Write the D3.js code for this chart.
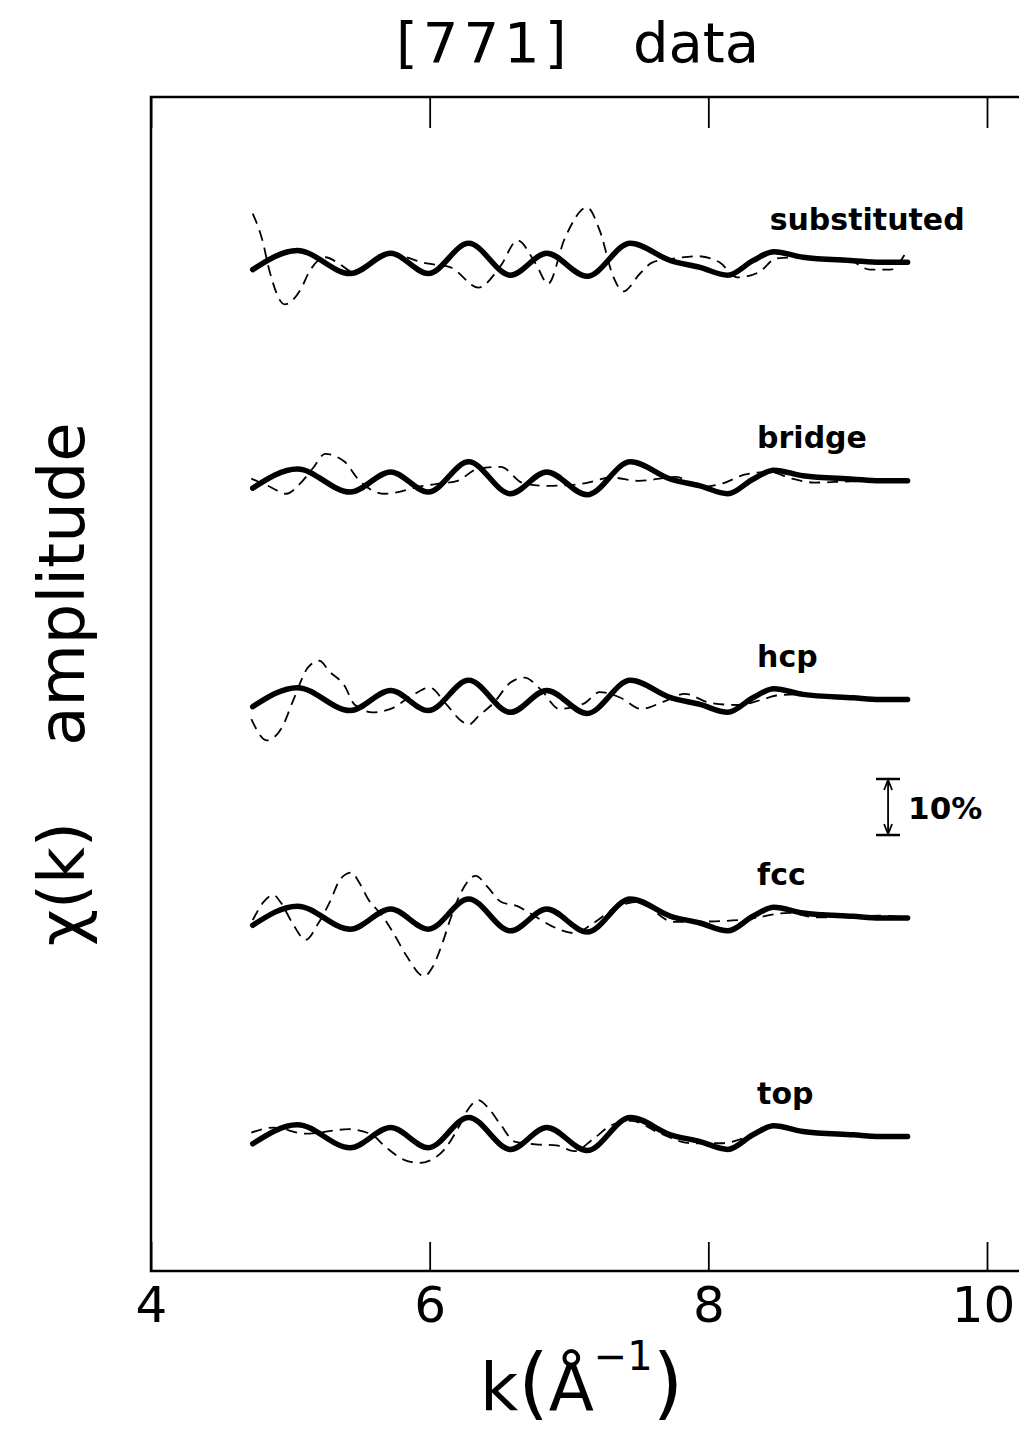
<html>
<head>
<title>[771] data</title>
<script src="https://d3js.org/d3.v7.min.js"></script>
<style>
  body { margin: 0; background: #fff; }
  svg { display: block; }
  .thin { font-family: "DejaVu Sans", sans-serif; fill: #000; }
  .bold { font-family: "DejaVu Sans", sans-serif; font-weight: bold; fill: #000; }
</style>
</head>
<body>
<div id="chart"></div>
<script>
// ---- data (k in 1/A, chi in %) ----
var panelNames = ["substituted", "bridge", "hcp", "fcc", "top"];
var panelOffsets = [156, 117, 78, 39, 0];

// measured chi(k), same in every panel (thick line)
var kData   = [4.73, 5.05, 5.43, 5.72, 5.99, 6.28, 6.58, 6.84, 7.13, 7.44, 7.73, 7.94, 8.14, 8.32, 8.47, 8.68, 9.04, 9.23, 9.43];
var chiData = [-1.1, 2.3, -1.8, 1.8, -1.8, 3.6, -2.1, 1.8, -2.3, 3.6, 0.5, -0.7, -2.1, 0.5, 2.1, 1.1, 0.5, 0.2, 0.2];

// calculated chi(k) for each site (dashed)
var kSub   = [4.73, 4.80, 4.85, 4.96, 5.07, 5.14, 5.25, 5.36, 5.44, 5.72, 5.98, 6.15, 6.35, 6.51, 6.63, 6.76, 6.85, 6.97, 7.13, 7.22, 7.32, 7.39, 7.51, 7.60, 7.76, 7.92, 8.08, 8.21, 8.36, 8.49, 8.66, 8.82, 8.98, 9.16, 9.31, 9.41];
var chiSub = [8.9, 4.1, -1.3, -7.3, -4.8, -1.3, 1.1, -0.2, -1.4, 1.6, 0, -0.7, -4.3, -0.4, 4.1, 0, -3.6, 4.5, 10.0, 5.9, -2.5, -5.0, -1.8, 0.2, 0.9, 1.3, 0.2, -2.5, -1.6, 0.9, 1.1, 0.9, 0.9, -1.1, -1.1, 1.6];

var kBridge   = [4.72, 4.85, 4.97, 5.07, 5.16, 5.25, 5.39, 5.49, 5.68, 5.79, 5.93, 6.10, 6.20, 6.35, 6.51, 6.67, 6.83, 6.98, 7.12, 7.30, 7.50, 7.77, 7.94, 8.11, 8.26, 8.44, 8.60, 8.76, 9.02, 9.43];
var chiBridge = [0.6, -0.8, -2.1, -0.3, 2.4, 5.0, 3.6, 0.4, -2.1, -1.7, -0.8, -0.2, 0.2, 2.4, 2.7, -0.2, -0.7, -0.6, -0.2, 0.8, 0.2, 0.9, -0.9, -0.2, 1.3, 1.8, 0.6, -0.1, 0.1, 0.2];

var kHcp   = [4.72, 4.83, 4.94, 5.02, 5.13, 5.21, 5.28, 5.39, 5.46, 5.59, 5.72, 5.88, 6.00, 6.12, 6.23, 6.28, 6.35, 6.46, 6.58, 6.68, 6.80, 6.93, 7.11, 7.22, 7.37, 7.52, 7.68, 7.83, 8.01, 8.21, 8.39, 8.49, 8.68, 9.04, 9.43];
var chiHcp = [-3.3, -7.1, -4.8, 0, 6.0, 7.1, 5.2, 2.6, -0.7, -2.1, -1.5, 1.0, 2.3, -0.7, -3.7, -4.3, -2.8, -0.4, 3.2, 4.1, 1.9, -1.5, -0.5, 1.5, 0.5, -1.5, -0.2, 1.2, -0.4, -0.8, 0.2, 0.9, 1.1, 0.5, 0.2];

var kFcc   = [4.73, 4.81, 4.88, 4.93, 5.01, 5.11, 5.20, 5.29, 5.36, 5.44, 5.49, 5.56, 5.66, 5.74, 5.83, 5.96, 6.02, 6.09, 6.15, 6.23, 6.33, 6.42, 6.51, 6.63, 6.73, 6.88, 7.04, 7.17, 7.32, 7.49, 7.75, 8.05, 8.26, 8.58, 8.77, 9.05, 9.23, 9.40];
var chiFcc = [-0.2, 3.1, 4.3, 3.0, -0.5, -3.7, -0.8, 3.4, 7.2, 8.3, 6.7, 3.5, 0.6, -2.5, -6.4, -10.2, -8.6, -4.4, 0.1, 5.0, 7.7, 5.6, 3.1, 2.3, 0.9, -1.3, -2.5, -0.8, 1.8, 3.1, -0.5, -0.4, -0.1, 1.1, 0.3, 0.5, 0.6, 0.3];

var kTop   = [4.72, 4.88, 5.11, 5.42, 5.58, 5.69, 5.83, 5.93, 6.00, 6.11, 6.20, 6.28, 6.35, 6.42, 6.51, 6.61, 6.76, 6.91, 7.04, 7.18, 7.31, 7.45, 7.65, 7.87, 8.09, 8.32, 8.47, 8.68, 9.04, 9.43];
var chiTop = [0.9, 1.8, 0.7, 1.5, 0.6, -1.8, -4.1, -4.5, -4.1, -2.0, 1.5, 5.2, 6.7, 5.3, 2.3, -0.7, -1.2, -1.4, -2.4, -0.1, 2.3, 3.0, 0.8, -1.0, -1.0, 0.5, 2.1, 1.1, 0.5, 0.2];

var xTicks = [4, 6, 8, 10];
var xDomain = [4, 10];
var yDomain = [-23.8, 185.7];
var scaleBarPct = 10;

var fits = [[kSub, chiSub], [kBridge, chiBridge], [kHcp, chiHcp], [kFcc, chiFcc], [kTop, chiTop]];

// ---- drawing ----
var width = 1019, height = 1439;
var plotLeft = 151, plotTop = 97, plotBottom = 1271;

var svg = d3.select("#chart").append("svg")
  .attr("width", width)
  .attr("height", height);

svg.append("rect").attr("width", width).attr("height", height).attr("fill", "#fff");

var x = d3.scaleLinear().domain(xDomain).range([plotLeft, 987]);
var y = d3.scaleLinear().domain(yDomain).range([plotBottom, plotTop]);

// frame (right side runs off the picture)
svg.append("path")
  .attr("d", "M" + (width + 20) + "," + plotTop + "H" + plotLeft + "V" + plotBottom + "H" + (width + 20))
  .attr("fill", "none")
  .attr("stroke", "#000")
  .attr("stroke-width", 2.5);

// bottom axis with inward ticks
var xAxis = svg.append("g")
  .attr("transform", "translate(0," + plotBottom + ")")
  .call(d3.axisBottom(x).tickValues(xTicks).tickSize(-29).tickFormat(d3.format("d")));
xAxis.select(".domain").remove();
xAxis.selectAll("line").attr("stroke-width", 1.8);
xAxis.selectAll("text")
  .attr("class", "thin")
  .attr("y", 51).attr("dy", 0)
  .attr("dx", function (d) { return d == 10 ? -4 : 0; })
  .attr("font-family", null)
  .style("font-size", "50px");

// top axis, ticks only
var xAxisTop = svg.append("g")
  .attr("transform", "translate(0," + plotTop + ")")
  .call(d3.axisTop(x).tickValues(xTicks).tickSize(-31).tickFormat(""));
xAxisTop.select(".domain").remove();
xAxisTop.selectAll("line").attr("stroke-width", 1.8);

var line = function (ks, cs, off) {
  return d3.line()
    .x(function (d) { return x(d); })
    .y(function (d, i) { return y(cs[i] + off); })
    .curve(d3.curveMonotoneX)(ks);
};

panelNames.forEach(function (name, p) {
  var off = panelOffsets[p];
  svg.append("path")
    .attr("d", line(fits[p][0], fits[p][1], off))
    .attr("fill", "none")
    .attr("stroke", "#000")
    .attr("stroke-width", 1.8)
    .attr("stroke-dasharray", "11,7");
  svg.append("path")
    .attr("d", line(kData, chiData, off))
    .attr("fill", "none")
    .attr("stroke", "#000")
    .attr("stroke-width", 5.5)
    .attr("stroke-linejoin", "round")
    .attr("stroke-linecap", "round");
  svg.append("text")
    .attr("class", "bold")
    .attr("x", x(name == "substituted" ? 8.44 : 8.35))
    .attr("y", y(off + 6))
    .style("font-size", "30px")
    .text(name);
});

// 10% scale bar
var barK = 9.29, barMid = 59;
var bx = x(barK), b0 = y(barMid - scaleBarPct / 2), b1 = y(barMid + scaleBarPct / 2);
var bar = svg.append("g").attr("stroke", "#000").attr("stroke-width", 1.8).attr("fill", "none");
bar.append("line").attr("x1", bx).attr("x2", bx).attr("y1", b0).attr("y2", b1);
bar.append("line").attr("x1", bx - 12).attr("x2", bx + 12).attr("y1", b0).attr("y2", b0).attr("stroke-width", 2.5);
bar.append("line").attr("x1", bx - 12).attr("x2", bx + 12).attr("y1", b1).attr("y2", b1).attr("stroke-width", 2.5);
bar.append("path").attr("d", "M" + (bx - 4) + "," + (b1 + 11) + "L" + bx + "," + (b1 + 1) + "L" + (bx + 4) + "," + (b1 + 11));
bar.append("path").attr("d", "M" + (bx - 4) + "," + (b0 - 11) + "L" + bx + "," + (b0 - 1) + "L" + (bx + 4) + "," + (b0 - 11));
svg.append("text")
  .attr("class", "bold")
  .attr("x", bx + 20)
  .attr("y", (b0 + b1) / 2 + 12)
  .style("font-size", "31px")
  .text(scaleBarPct + "%");

// title
svg.append("text").attr("class", "thin")
  .attr("x", 396).attr("y", 62)
  .style("font-size", "56px").style("letter-spacing", "5px")
  .text("[771]");
svg.append("text").attr("class", "thin")
  .attr("x", 633).attr("y", 62)
  .style("font-size", "56px")
  .text("data");

// x axis title
var xt = svg.append("text").attr("class", "thin")
  .attr("x", 480).attr("y", 1410)
  .style("font-size", "66px");
xt.append("tspan").text("k");
xt.append("tspan").style("font-size", "78px").text("(");
xt.append("tspan").text("Å");
xt.append("tspan").attr("dy", -40).style("font-size", "40px").text("−1");
xt.append("tspan").attr("dy", 40).style("font-size", "78px").text(")");

// y axis title
svg.append("text").attr("class", "thin")
  .attr("transform", "translate(84,584) rotate(-90)")
  .attr("text-anchor", "middle")
  .style("font-size", "64px")
  .text("amplitude");
svg.append("text").attr("class", "thin")
  .attr("transform", "translate(84,884) rotate(-90)")
  .attr("text-anchor", "middle")
  .style("font-size", "64px")
  .text("χ(k)");
</script>
</body>
</html>
